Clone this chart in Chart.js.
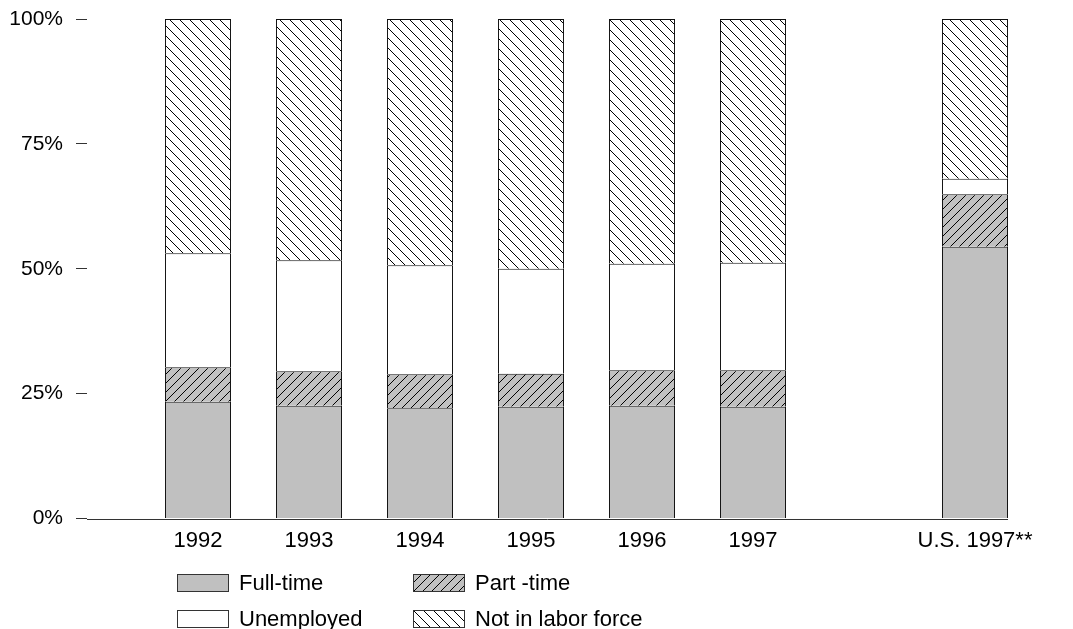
<!DOCTYPE html>
<html>
<head>
<meta charset="utf-8">
<script src="https://cdn.jsdelivr.net/npm/chart.js@4.4.0/dist/chart.umd.min.js"></script>
<style>
  html, body { margin: 0; padding: 0; background: #fff; }
  #wrap { position: relative; width: 1073px; height: 629px; overflow: hidden; }
  #legend { position: absolute; left: 0; top: 0; width: 1073px; height: 629px; pointer-events: none;
            font-family: 'Liberation Sans', Arial, Helvetica, sans-serif; font-size: 22px; color: #000; }
  .item { position: absolute; display: flex; align-items: center; height: 20px; }
  .item canvas { display: block; margin-right: 10px; }
</style>
</head>
<body>
<div id="wrap">
  <canvas id="c" width="1073" height="629"></canvas>
  <div id="legend"></div>
</div>
<script>
// ---- data (percent of population) ----
const categories = ['', '1992', '1993', '1994', '1995', '1996', '1997', '', 'U.S. 1997**'];
const fullTime    = [null, 23.4, 22.6, 22.1, 22.4, 22.6, 22.4, null, 54.4];
const partTime    = [null,  6.9,  6.9,  6.8,  6.6,  7.1,  7.3, null, 10.5];
const unemployed  = [null, 22.8, 22.2, 21.8, 21.0, 21.3, 21.5, null,  3.1];
const notInLabor  = [null, 46.9, 48.3, 49.3, 50.0, 49.0, 48.8, null, 32.0];
const seriesNames = ['Full-time', 'Part -time', 'Unemployed', 'Not in labor force'];
const yTicks = [0, 25, 50, 75, 100];

const FONT = "'Liberation Sans', Arial, Helvetica, sans-serif";
const GRAY = '#c0c0c0';

function hatch(size, bg, dir) {
  const c = document.createElement('canvas');
  c.width = size; c.height = size;
  const g = c.getContext('2d');
  g.fillStyle = bg; g.fillRect(0, 0, size, size);
  g.strokeStyle = '#000'; g.lineWidth = 1;
  g.beginPath();
  for (let k = -1; k <= 2; k++) {
    if (dir === 'back') { g.moveTo(0, k * size); g.lineTo(size, k * size + size); }
    else { g.moveTo(0, k * size); g.lineTo(size, k * size - size); }
  }
  g.stroke();
  return g.createPattern(c, 'repeat');
}

const ctx = document.getElementById('c').getContext('2d');
const fills = [GRAY, hatch(9, GRAY, 'fwd'), '#ffffff', hatch(10, '#ffffff', 'back')];
const values = [fullTime, partTime, unemployed, notInLabor];

const baseLine = {
  id: 'baseLine',
  afterDatasetsDraw(chart) {
    const meta = chart.getDatasetMeta(0);
    let right = chart.chartArea.right;
    meta.data.forEach((el, i) => {
      if (fullTime[i] != null) right = el.x + el.width / 2;
    });
    const y = chart.scales.y.getPixelForValue(0);
    const c = chart.ctx;
    c.save();
    c.strokeStyle = '#333'; c.lineWidth = 1;
    c.beginPath();
    c.moveTo(chart.chartArea.left, Math.round(y) + 0.5);
    c.lineTo(right, Math.round(y) + 0.5);
    c.stroke();
    c.restore();
  }
};

const chart = new Chart(ctx, {
  type: 'bar',
  data: {
    labels: categories,
    datasets: values.map((v, i) => ({
      label: seriesNames[i],
      data: v,
      backgroundColor: fills[i],
      borderColor: '#111',
      borderWidth: 1,
      clip: false,
      categoryPercentage: 1,
      barPercentage: 0.595
    }))
  },
  options: {
    responsive: false,
    animation: false,
    layout: { padding: { left: 10, right: 98, top: 19, bottom: 66 } },
    plugins: { legend: { display: false }, tooltip: { enabled: false } },
    scales: {
      x: {
        stacked: true,
        offset: false,
        grid: { display: false, drawTicks: false },
        border: { display: false },
        ticks: { color: '#000', font: { family: FONT, size: 22 }, padding: 9, maxRotation: 0, autoSkip: false },
        afterFit(s) { s.paddingLeft = 0; }
      },
      y: {
        stacked: true,
        min: 0, max: 100,
        afterBuildTicks(scale) { scale.ticks = yTicks.map(v => ({ value: v })); },
        afterFit(s) { s.width = 77; s.paddingTop = 0; s.paddingBottom = 0; },
        grid: { display: true, drawOnChartArea: false, drawTicks: true, tickLength: 11, color: '#333' },
        border: { display: false },
        ticks: { color: '#000', font: { family: FONT, size: 21 }, padding: 13, callback: v => v + '%' }
      }
    }
  },
  plugins: [baseLine]
});

// ---- legend (two columns, two rows) ----
const legend = document.getElementById('legend');
const pos = [[177, 573], [413, 573], [177, 609], [413, 609]];
seriesNames.forEach((name, si) => {
  const item = document.createElement('div');
  item.className = 'item';
  item.style.left = pos[si][0] + 'px';
  item.style.top = pos[si][1] + 'px';
  const sw = document.createElement('canvas');
  sw.width = 52; sw.height = 18;
  const g = sw.getContext('2d');
  g.fillStyle = fills[si]; g.fillRect(0, 0, 52, 18);
  g.strokeStyle = '#333'; g.lineWidth = 1; g.strokeRect(0.5, 0.5, 51, 17);
  item.appendChild(sw);
  const t = document.createElement('span');
  t.textContent = name;
  item.appendChild(t);
  legend.appendChild(item);
});
</script>
</body>
</html>
